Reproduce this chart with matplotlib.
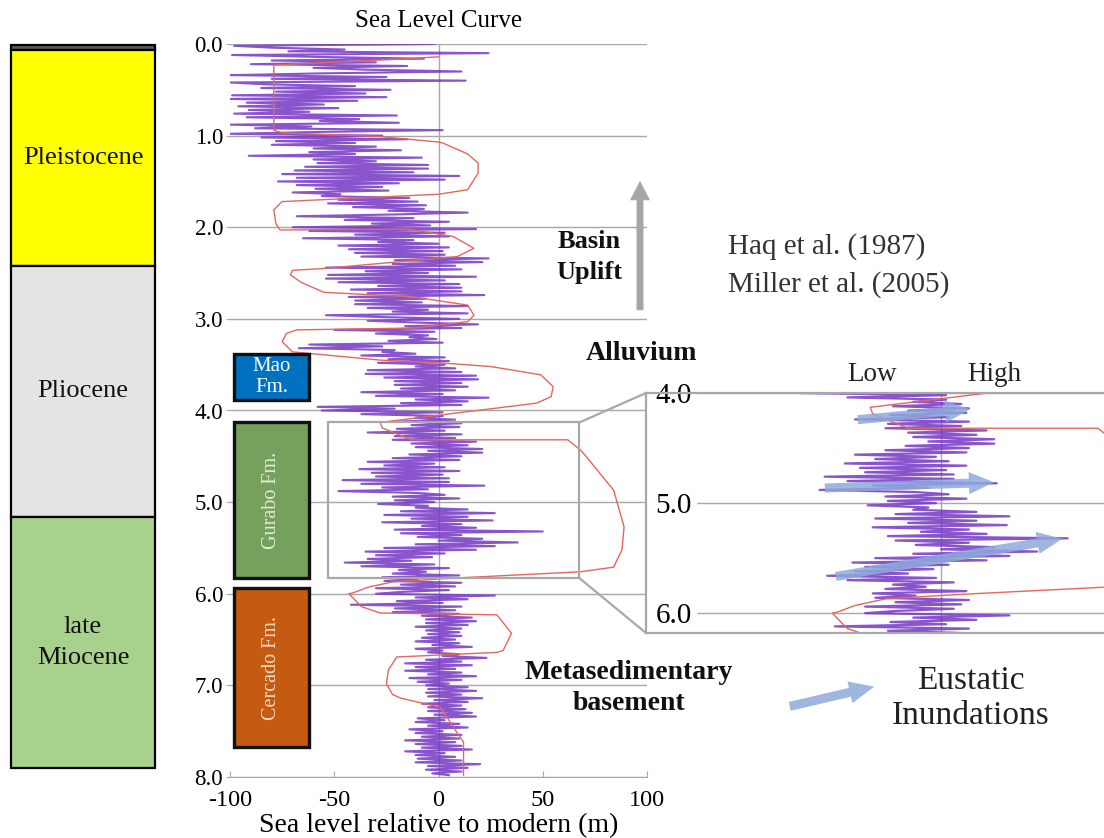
import numpy as np
import matplotlib
matplotlib.use('Agg')
import matplotlib.pyplot as plt
from matplotlib.patches import Rectangle, FancyArrowPatch, ConnectionPatch

plt.rcParams['font.family'] = ['Liberation Serif', 'DejaVu Serif']
plt.rcParams['axes.unicode_minus'] = False

W, H = 1104, 838

# high-resolution sea level curve (Miller et al., 2005), one value every 20 kyr from 0 Ma
miller_step = 0.02
miller_sl = [
    -2, -98, -80, -45, -72, 24, -99, -60, -7, -80,
    -30, -90, -15, -60, -35, 11, -55, -100, -25, -80,
    13, -100, -83, -40, -85, -23, -78, -35, -99, -25,
    -100, -39, -92, -55, -96, -48, -91, -62, -98, -20,
    -92, -38, -57, -19, -100, -61, -88, 2, -58, -100,
    -27, -85, -15, -78, -40, -80, -30, -60, -18, -62,
    -40, -91, -8, -60, -30, -58, -5, -64, -5, -69,
    -12, -75, 10, -68, 3, -77, -19, -68, -27, -59,
    -24, -70, -47, -56, -14, -48, -10, -53, -6, -41,
    -7, -24, 14, -20, -68, -12, -45, 5, -32, -4,
    -70, 18, -62, 3, -40, 5, -65, -12, -29, 0,
    -48, 5, -43, 2, -40, 3, -37, 24, -21, 21,
    -22, 8, -54, 11, -35, -5, -53, 18, -54, 3,
    -48, 10, -29, 11, -42, 11, -34, 22, -43, -6,
    -40, -8, -40, 14, -34, -5, -22, 14, -54, -27,
    10, -34, -11, 19, -16, 11, -50, -2, -30, -5,
    -14, -1, -24, 2, -62, -27, -67, -21, -27, -11,
    -37, 3, -24, 5, -29, 3, -11, 8, -34, 11,
    -35, 18, -26, 19, -21, 11, -21, 14, -18, 8,
    -37, 2, -30, 24, -11, 14, -18, 11, -58, -21,
    -56, 2, -37, 2, -11, 8, -19, 11, -13, 10,
    -20, 3, -34, 11, -21, 8, -22, 18, -13, 14,
    -11, 21, -5, 21, -14, 11, -22, 10, -34, -2,
    -26, 3, -38, 10, -32, 2, -30, 5, -46, 5,
    -37, 22, -27, -5, -48, -10, 3, -22, 10, -21,
    -2, -29, -5, -11, 14, -18, 27, -26, 14, -13,
    26, -27, 11, -8, 18, -21, 50, -18, 11, -10,
    21, 0, 38, -11, 27, -26, 18, -35, 3, -30,
    -3, -34, -13, -45, -2, -37, 5, -19, -6, -22,
    10, -27, -10, -26, 11, -18, 8, -30, 5, -18,
    -30, 27, -11, 14, -20, 2, -42, 11, -21, 8,
    -22, 10, -8, 16, -6, 18, -6, 14, -11, 11,
    -6, 10, -5, 11, -8, 8, -11, 10, -3, 16,
    -11, 2, -5, 10, 2, 23, -6, 11, -16, 16,
    -11, 8, -16, 11, -5, 18, -14, 11, -10, 5,
    -6, 14, -5, 18, -6, 11, -5, 21, -2, 14,
    -8, 11, -5, 13, -5, 16, -2, 18, -10, 3,
    -11, 10, -5, 14, -14, 2, -11, 11, -8, 10,
    -16, 8, -11, 11, -8, 16, -16, 3, -11, 8,
    -10, 11, -11, 20, -5, 14, -6, 11, -3, 5,
]
miller_age = np.arange(len(miller_sl)) * miller_step

# long-term curve (Haq et al., 1987)
haq_age = [0.14, 0.16, 0.23, 0.94, 0.97, 1.01, 1.07, 1.08, 1.20, 1.30, 1.41, 1.59,
           1.64, 1.72, 1.81, 1.96, 2.03, 2.02, 2.10, 2.23, 2.32, 2.45, 2.47, 2.52,
           2.60, 2.71, 2.76, 2.85, 2.96, 3.03, 3.10, 3.12, 3.16, 3.25, 3.36, 3.45,
           3.48, 3.52, 3.61, 3.74, 3.85, 3.92, 4.13, 4.19, 4.32, 4.32, 4.43, 4.48,
           4.87, 5.27, 5.52, 5.71, 5.76, 5.83, 5.87, 5.93, 5.99, 6.00, 6.14, 6.21,
           6.23, 6.43, 6.62, 6.64, 6.69, 6.83, 6.98, 7.10, 7.14, 7.24, 7.52, 7.62, 7.98]
haq_sl = [0, -15, -79, -79, -75, -28, 0, 2, 14, 19, 19, 14,
          0, -75, -79, -78, -76, -15, 7, 17, 9, -55, -70, -71,
          -66, -55, -12, 14, 17, 14, -12, -68, -73, -75, -70, -28,
          1, 25, 49, 55, 54, 47, -28, -27, -13, 62, 68, 70,
          84, 89, 88, 84, 68, 7, -22, -34, -41, -43, -37, -28,
          28, 35, 31, 28, -20, -24, -25, -22, -18, 1, 9, 12, 12]

epoch_names = ['', 'Pleistocene', 'Pliocene', 'late\nMiocene']
epoch_top = [0.01, 0.066, 2.42, 5.16]
epoch_base = [0.066, 2.42, 5.16, 7.90]
epoch_colors = ['#595959', '#ffff00', '#e4e4e4', '#a9d18e']

fm_names = ['Mao\nFm.', 'Gurabo Fm.', 'Cercado Fm.']
fm_top = [3.38, 4.13, 5.94]
fm_base = [3.89, 5.83, 7.67]
fm_colors = ['#0070c0', '#76a05e', '#c55a11']
fm_text_colors = ['white', '#e3ecd8', '#f8dcc4']

PURPLE = '#7436c4'
RED = '#e4675c'
GRID = '#a8a8a8'
BLUE = '#8eaadb'


def box(l, t, r, b):
    return [l / W, 1 - b / H, (r - l) / W, (b - t) / H]


fig = plt.figure(figsize=(W / 100, H / 100), dpi=100)
ax = fig.add_axes(box(230, 44, 647, 777))
col = fig.add_axes(box(11, 44, 155, 777))
ins = fig.add_axes(box(646, 393, 1104, 633))
over = fig.add_axes([0, 0, 1, 1])
over.set_xlim(0, W)
over.set_ylim(H, 0)
over.axis('off')

# epoch column
col.set_xlim(0, 1)
col.set_ylim(8, 0)
col.axis('off')
for name, t, b, c in zip(epoch_names, epoch_top, epoch_base, epoch_colors):
    col.add_patch(Rectangle((0, t), 1, b - t, fc=c, ec='black', lw=1.6, clip_on=False))
    if name:
        col.text(0.5, (t + b) / 2, name, ha='center', va='center', fontsize=19,
                 color='#111111', linespacing=1.5)

# main sea level panel
ax.plot(miller_sl, miller_age, color=PURPLE, lw=1.5, alpha=0.85, zorder=2)
ax.plot(haq_sl, haq_age, color=RED, lw=1.0, zorder=2)
ax.set_xlim(-100, 100)
ax.set_ylim(8, 0)
ax.set_yticks(np.arange(9))
ax.set_yticklabels([f'{v:.1f}' for v in range(9)])
ax.set_xticks([-100, -50, 0, 50, 100])
for s in ['top', 'right', 'left']:
    ax.spines[s].set_visible(False)
ax.spines['bottom'].set_color(GRID)
ax.grid(axis='y', color=GRID, lw=1.0)
ax.axvline(0, color=GRID, lw=1.0, zorder=1)
ax.tick_params(axis='y', length=3, color=GRID, pad=2, labelsize=16.5)
ax.tick_params(axis='x', direction='in', length=4, color=GRID, pad=9, labelsize=17.5)
ax.set_xlabel('Sea level relative to modern (m)', fontsize=20, labelpad=2)
ax.set_title('Sea Level Curve', fontsize=18, pad=12)

for name, t, b, c, tc in zip(fm_names, fm_top, fm_base, fm_colors, fm_text_colors):
    ax.add_patch(Rectangle((-98, t), 36, b - t, fc=c, ec='#111111', lw=2.4, zorder=4))
    rot = 0 if '\n' in name else 90
    ax.text(-80, (t + b) / 2, name, ha='center', va='center', rotation=rot,
            fontsize=15 if rot == 0 else 14.5, color=tc, linespacing=1.15, zorder=5)

# zoom window and its links to the enlarged panel
ax.add_patch(Rectangle((-53, 4.13), 120.6, 1.70, fill=False, ec=GRID, lw=1.6, zorder=3))
for ya, yb in [(4.13, 1), (5.83, 0)]:
    fig.add_artist(ConnectionPatch(xyA=(67.6, ya), coordsA=ax.transData,
                                   xyB=(0, yb), coordsB=ins.transAxes,
                                   color=GRID, lw=1.6))

# enlarged 4-6 Ma panel
ins.plot(miller_sl, miller_age, color=PURPLE, lw=1.6, alpha=0.85, zorder=2)
ins.plot(haq_sl, haq_age, color=RED, lw=1.0, zorder=2)
ins.set_xlim(-116.6, 64.4)
ins.set_ylim(6.18, 4.0)
ins.hlines([4, 5, 6], -96.4, 64.4, color=GRID, lw=1.0, zorder=1)
ins.axvline(0, color=GRID, lw=1.0, zorder=1)
ins.set_xticks([])
ins.set_yticks([4, 5, 6])
ins.set_yticklabels(['4.0', '5.0', '6.0'])
ins.tick_params(axis='y', length=0, pad=-33, labelsize=21)
for lbl in ins.get_yticklabels():
    lbl.set_bbox(dict(facecolor='white', edgecolor='none', pad=1))
ins.spines['right'].set_visible(False)
for s in ['top', 'left', 'bottom']:
    ins.spines[s].set_color(GRID)
    ins.spines[s].set_linewidth(1.6)

for (x0, y0), (x1, y1) in [((-34, 4.245), (12.6, 4.145)),
                           ((-47, 4.864), (22, 4.81)),
                           ((-42.7, 5.67), (49, 5.32))]:
    ins.add_patch(FancyArrowPatch((x0, y0), (x1, y1), mutation_scale=1,
                                  arrowstyle='simple,tail_width=6.5,head_width=16,head_length=18',
                                  color=BLUE, alpha=0.85, lw=0, zorder=3))

# annotations
over.text(872, 374, 'Low', ha='center', va='center', fontsize=19.5, color='#222222')
over.text(994, 374, 'High', ha='center', va='center', fontsize=19.5, color='#222222')
over.text(589, 257, 'Basin\nUplift', ha='center', va='center', fontsize=19,
          fontweight='bold', linespacing=1.4, color='#111111')
over.add_patch(FancyArrowPatch((640, 313), (640, 178), mutation_scale=1,
                               arrowstyle='simple,tail_width=5,head_width=14.5,head_length=14',
                               color='#a6a6a6', lw=0))
over.text(728, 247, 'Haq et al. (1987)', ha='left', va='center', fontsize=21, color='#333333')
over.text(728, 285, 'Miller et al. (2005)', ha='left', va='center', fontsize=21, color='#333333')
over.text(641, 353, 'Alluvium', ha='center', va='center', fontsize=20,
          fontweight='bold', color='#111111')
over.text(629, 688, 'Metasedimentary\nbasement', ha='center', va='center', fontsize=20,
          fontweight='bold', linespacing=1.3, color='#111111')
over.add_patch(FancyArrowPatch((787, 707), (877, 686), mutation_scale=1,
                               arrowstyle='simple,tail_width=6.5,head_width=16,head_length=18',
                               color=BLUE, alpha=0.85, lw=0))
over.text(971, 698, 'Eustatic\nInundations', ha='center', va='center', fontsize=24,
          linespacing=1.2, color='#222222')

fig.savefig('out.png', dpi=100)
